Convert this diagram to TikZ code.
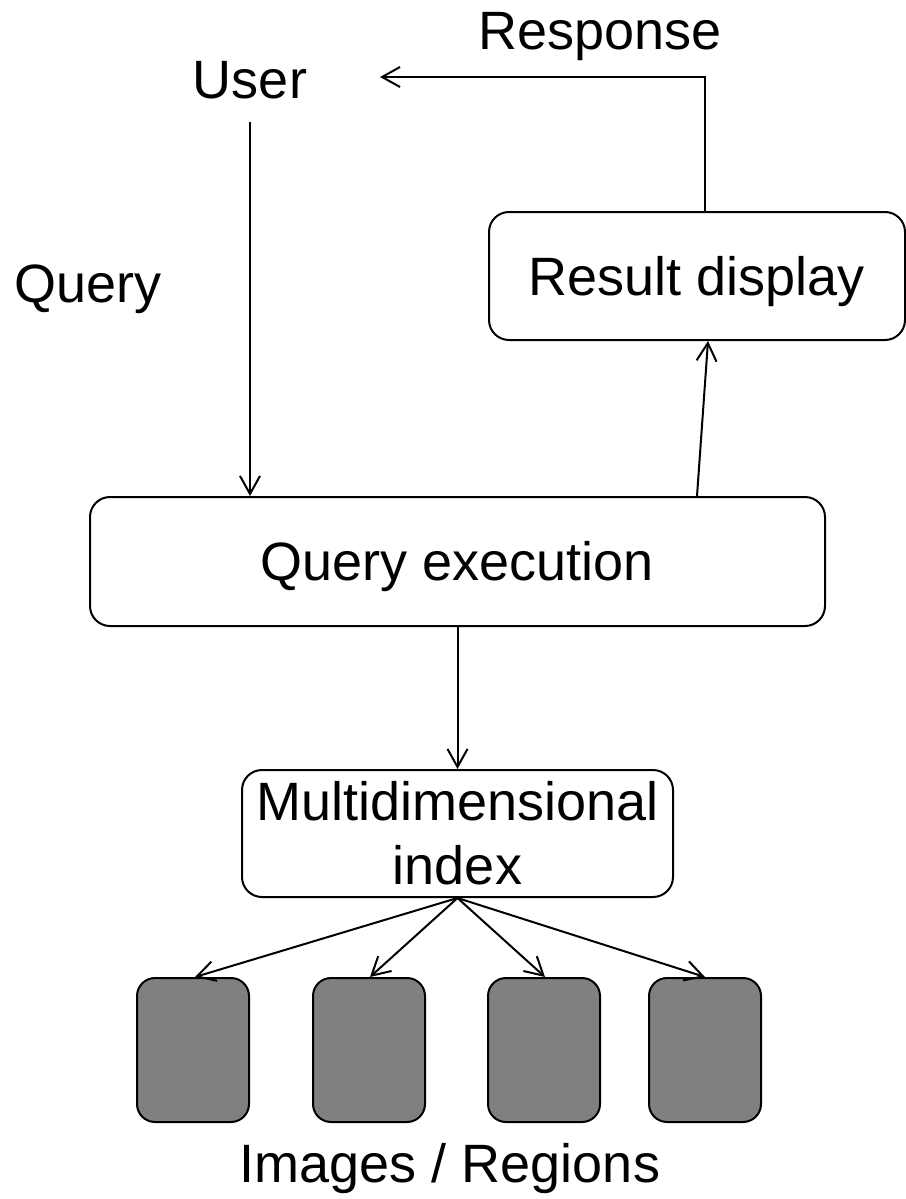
\documentclass[tikz,border=0pt]{standalone}
\usepackage{fontspec}
\setmainfont{Liberation Sans}
\usetikzlibrary{arrows.meta}
\begin{document}
\begin{tikzpicture}[x=1pt,y=-1pt,
  lbl/.style={font=\fontsize{54}{64}\selectfont, inner sep=0pt, anchor=base},
  box/.style={draw, line width=2pt, rounded corners=20pt, fill=white,
    font=\fontsize{54}{64}\selectfont, inner sep=0pt,
    text height=38pt, text depth=0pt},
  store/.style={draw, line width=2pt, rounded corners=18pt, fill=black!50,
    minimum width=112pt, minimum height=144pt, inner sep=0pt},
  conn/.style={line width=2pt, -{Straight Barb[length=18pt,width=20pt,line width=2pt]}}]
\useasboundingbox (0,0) rectangle (905,1199);
% labels
\node[lbl] (user) at (250,98) {User};
\node[lbl] (resp) at (600,50) {Response};
\node[lbl] (query) at (88,302) {Query};
\node[lbl] (imgs) at (450,1182) {Images / Regions};
% boxes
\node[box, minimum width=416pt, minimum height=128pt] (rd) at (697,276) {Result display};
\node[box, minimum width=735pt, minimum height=129pt] (qe) at (457.5,561.5) {Query execution};
\node[draw, line width=2pt, rounded corners=20pt, fill=white,
  font=\fontsize{54}{64}\selectfont, inner sep=0pt, align=center,
  minimum width=431pt, minimum height=127pt] (mi) at (457.5,833.5) {Multidimensional\\index};
\node[store] (s1) at (193,1050) {};
\node[store] (s2) at (369,1050) {};
\node[store] (s3) at (544,1050) {};
\node[store] (s4) at (705,1050) {};
% connectors
\coordinate (ustart) at (250,122);
\coordinate (rend) at (380,77);
\draw[conn] (ustart) -- (ustart |- qe.north);
\draw[conn] (697,0 |- qe.north) -- (708,0 |- rd.south);
\draw[conn] (705,0 |- rd.north) |- (rend);
\draw[conn] (qe.south) -- (mi.north);
\foreach \s/\x in {s1/195,s2/370,s3/545,s4/705}{
  \draw[conn] (mi.south) -- (\x,0 |- \s.north);
}
\end{tikzpicture}
\end{document}
